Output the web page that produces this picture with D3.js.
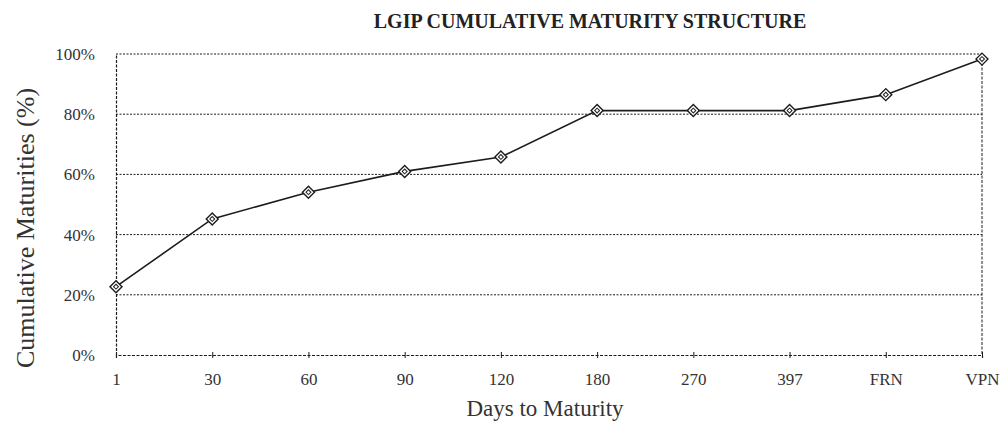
<!DOCTYPE html>
<html>
<head>
<meta charset="utf-8">
<script src="https://cdn.jsdelivr.net/npm/d3@7"></script>
<style>
  html, body { margin: 0; padding: 0; background: #fff; }
  svg { display: block; }
</style>
</head>
<body>
<div id="chart"></div>
<script>
const categories = ['1', '30', '60', '90', '120', '180', '270', '397', 'FRN', 'VPN'];
const cumulative = [22.7, 45.2, 54.1, 61.0, 65.8, 81.2, 81.2, 81.2, 86.5, 98.3];
const yTicks = [0, 20, 40, 60, 80, 100];

const width = 1001, height = 427;
const margin = { top: 54, right: 19, bottom: 72, left: 116 };
const ink = '#1c1c1c';
const serif = '"Liberation Serif", "DejaVu Serif", serif';

const svg = d3.select('#chart')
  .append('svg')
  .attr('width', width)
  .attr('height', height);

const x = d3.scalePoint()
  .domain(categories)
  .range([margin.left, width - margin.right])
  .padding(0);

const y = d3.scaleLinear()
  .domain([0, 100])
  .range([height - margin.bottom, margin.top]);

// gridlines
svg.append('g')
  .selectAll('line')
  .data(yTicks.filter(d => d > 0))
  .enter()
  .append('line')
  .attr('x1', margin.left)
  .attr('x2', width - margin.right)
  .attr('y1', d => y(d))
  .attr('y2', d => y(d))
  .attr('stroke', ink)
  .attr('stroke-width', 1)
  .attr('stroke-dasharray', '2,1.5');

// right border
svg.append('line')
  .attr('x1', width - margin.right)
  .attr('x2', width - margin.right)
  .attr('y1', y(100))
  .attr('y2', y(0))
  .attr('stroke', ink)
  .attr('stroke-dasharray', '3,1.5');

// y axis
const yAxis = svg.append('g')
  .attr('transform', `translate(${margin.left},0)`)
  .call(d3.axisLeft(y).tickValues(yTicks).tickSize(0).tickPadding(21).tickFormat(d => d + '%'));
yAxis.select('.domain')
  .attr('stroke', ink)
  .attr('stroke-width', 1.2)
  .attr('stroke-dasharray', '3,1.5');
yAxis.selectAll('text')
  .attr('font-family', serif)
  .attr('font-size', '17px')
  .attr('fill', '#333');

// x axis
const xAxis = svg.append('g')
  .attr('transform', `translate(0,${y(0)})`)
  .call(d3.axisBottom(x).tickSize(3).tickPadding(15));
xAxis.select('.domain')
  .attr('stroke', ink)
  .attr('stroke-width', 1.2)
  .attr('stroke-dasharray', '3,1.5');
xAxis.selectAll('.tick line')
  .attr('y1', -3)
  .attr('stroke', ink);
xAxis.selectAll('text')
  .attr('font-family', serif)
  .attr('font-size', '17px')
  .attr('fill', '#333');

// line
const line = d3.line()
  .x((d, i) => x(categories[i]))
  .y(d => y(d));

svg.append('path')
  .datum(cumulative)
  .attr('d', line)
  .attr('fill', 'none')
  .attr('stroke', ink)
  .attr('stroke-width', 1.6);

// markers: rotated squares with a small inner diamond
const outer = d3.symbol().type(d3.symbolSquare).size(72);
const inner = d3.symbol().type(d3.symbolSquare).size(12);
const markers = svg.append('g')
  .selectAll('g')
  .data(cumulative)
  .enter()
  .append('g')
  .attr('transform', (d, i) => `translate(${x(categories[i])},${y(d)}) rotate(45)`);
markers.append('path')
  .attr('d', outer)
  .attr('fill', '#fff')
  .attr('stroke', ink)
  .attr('stroke-width', 1.4);
markers.append('path')
  .attr('d', inner)
  .attr('fill', 'none')
  .attr('stroke', ink)
  .attr('stroke-width', 1);

// title
svg.append('text')
  .attr('x', 590)
  .attr('y', 28)
  .attr('text-anchor', 'middle')
  .attr('font-family', serif)
  .attr('font-size', '20px')
  .attr('font-weight', 'bold')
  .attr('fill', '#222')
  .text('LGIP CUMULATIVE MATURITY STRUCTURE');

// axis titles
svg.append('text')
  .attr('x', 545)
  .attr('y', 416)
  .attr('text-anchor', 'middle')
  .attr('font-family', serif)
  .attr('font-size', '23px')
  .attr('fill', '#333')
  .text('Days to Maturity');

svg.append('text')
  .attr('transform', 'translate(34,228) rotate(-90)')
  .attr('text-anchor', 'middle')
  .attr('font-family', serif)
  .attr('font-size', '26px')
  .attr('fill', '#333')
  .text('Cumulative Maturities (%)');
</script>
</body>
</html>
